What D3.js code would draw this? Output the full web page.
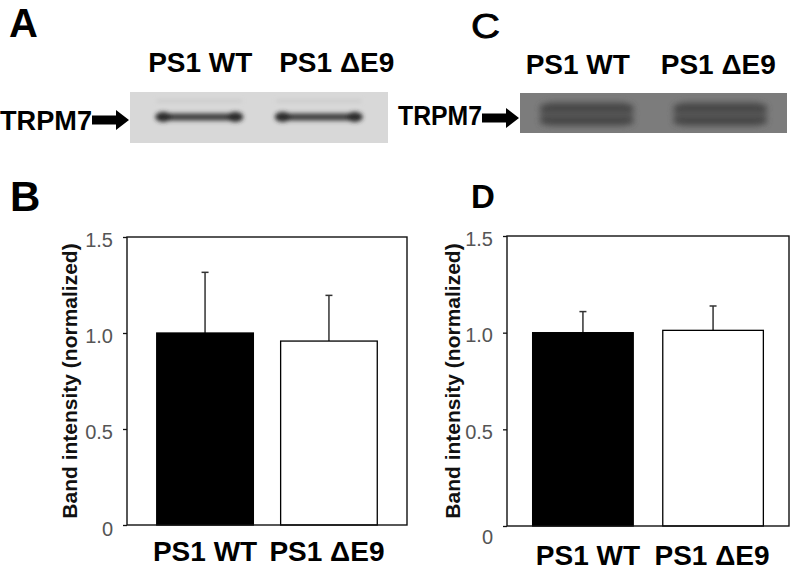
<!DOCTYPE html>
<html>
<head>
<meta charset="utf-8">
<script src="https://cdn.jsdelivr.net/npm/d3@7"></script>
<style>
  body { margin: 0; background: #fff; }
  svg { display: block; font-family: "Liberation Sans", Arial, sans-serif; }
</style>
</head>
<body>
<svg width="800" height="573"></svg>
<script>
const svg = d3.select('svg')

// lanes / groups
const categories = ['PS1 WT', 'PS1 \u0394E9']
// panel B: band intensity, mean and upper error
const meansB = [1.0, 0.958]
const errorsB = [0.316, 0.238]
// panel D
const meansD = [1.0, 1.012]
const errorsD = [0.109, 0.126]
const yTicks = [0, 0.5, 1.0, 1.5]

svg.append('rect').attr('width', 800).attr('height', 573).attr('fill', '#fff')

const defs = svg.append('defs')
defs.append('filter').attr('id', 'blurA').attr('x', '-20%').attr('y', '-100%').attr('width', '140%').attr('height', '300%')
  .append('feGaussianBlur').attr('stdDeviation', 1.9)
defs.append('filter').attr('id', 'blurC').attr('x', '-20%').attr('y', '-100%').attr('width', '140%').attr('height', '300%')
  .append('feGaussianBlur').attr('stdDeviation', 3.2)

// panel letters
const letters = [
  { t: 'A', x: 9, y: 37, size: 40, w: 'bold', len: null },
  { t: 'C', x: 471, y: 38, size: 35, w: 'normal', len: 29 },
  { t: 'B', x: 10, y: 211, size: 42, w: 'bold', len: null },
  { t: 'D', x: 471, y: 208, size: 33, w: 'bold', len: null }
]
letters.forEach(d => {
  const t = svg.append('text')
    .attr('x', d.x).attr('y', d.y)
    .attr('font-size', d.size).attr('font-weight', d.w)
    .attr('stroke', d.t === 'C' ? '#000' : 'none').attr('stroke-width', 0.8)
    .text(d.t)
  if (d.len) t.attr('textLength', d.len).attr('lengthAdjust', 'spacingAndGlyphs')
})

// western blot panels
function drawBlot(o) {
  const g = svg.append('g')
  const lane = d3.scaleBand().domain(categories)
    .range([o.x0, o.x1]).paddingInner(o.pi).paddingOuter(o.po)

  g.append('rect')
    .attr('x', o.x0).attr('y', o.y0)
    .attr('width', o.x1 - o.x0).attr('height', o.y1 - o.y0)
    .attr('fill', o.bg)

  const bands = g.append('g').attr('filter', o.filter)
  categories.forEach(c => {
    const bx = lane(c), bw = lane.bandwidth()
    o.stripes.forEach(s => {
      bands.append('line')
        .attr('x1', bx + s.h / 2).attr('x2', bx + bw - s.h / 2)
        .attr('y1', s.y).attr('y2', s.y)
        .attr('stroke', s.color).attr('stroke-width', s.h)
        .attr('stroke-linecap', 'round')
        .attr('opacity', s.op || 1)
    })
    if (o.ends) {
      [bx + 7, bx + bw - 7].forEach(ex => {
        bands.append('ellipse').attr('cx', ex).attr('cy', o.stripes[0].y)
          .attr('rx', 8).attr('ry', 5).attr('fill', '#2a2a2a')
      })
    }
  })

  g.selectAll('.lane-label').data(categories).enter().append('text')
    .attr('class', 'lane-label')
    .attr('x', (d, i) => lane(d) + lane.bandwidth() / 2 + o.labelShift[i])
    .attr('y', o.labelY)
    .attr('text-anchor', 'middle')
    .attr('font-size', 28).attr('font-weight', 'bold')
    .text(d => d)

  g.append('text')
    .attr('x', o.nameX).attr('y', o.nameY)
    .attr('font-size', 27).attr('font-weight', 'bold')
    .attr('textLength', o.nameW).attr('lengthAdjust', 'spacingAndGlyphs')
    .text('TRPM7')

  const ay = o.arrowY
  g.append('path')
    .attr('d', `M${o.arrowX0},${ay - 4.5}L${o.arrowXh},${ay - 4.5}L${o.arrowXh},${ay - 10}` +
      `L${o.arrowTip},${ay}L${o.arrowXh},${ay + 10}L${o.arrowXh},${ay + 4.5}L${o.arrowX0},${ay + 4.5}Z`)
    .attr('fill', '#000')
}

drawBlot({
  x0: 130, x1: 388, y0: 92, y1: 143, bg: '#d8d8d8',
  pi: 0.28, po: 0.22, filter: 'url(#blurA)',
  stripes: [
    { y: 117, h: 7, color: '#3c3c3c' },
    { y: 101, h: 2, color: '#bdbdbd', op: 0.7 }
  ], ends: true,
  labelY: 72, labelShift: [1, 18],
  nameX: 0, nameY: 130, nameW: 92,
  arrowX0: 92, arrowXh: 116, arrowTip: 129, arrowY: 120
})

drawBlot({
  x0: 520, x1: 787, y0: 93, y1: 133, bg: '#7c7c7c',
  pi: 0.3, po: 0.15, filter: 'url(#blurC)',
  stripes: [
    { y: 114, h: 24, color: '#585858' },
    { y: 108, h: 6, color: '#404040' },
    { y: 121, h: 6, color: '#404040' }
  ], ends: false,
  labelY: 74, labelShift: [-9, -2],
  nameX: 398, nameY: 125, nameW: 84,
  arrowX0: 482, arrowXh: 506, arrowTip: 519, arrowY: 118
})

// bar chart panels
function drawBars(o) {
  const g = svg.append('g')
  const x = d3.scaleBand().domain(categories)
    .range([o.left, o.right]).paddingInner(o.pi).paddingOuter(o.po)
  const y = d3.scaleLinear().domain([0, 1.5]).range([o.bottom, o.top])

  // error bars (upper only)
  g.selectAll('.err').data(categories).enter().append('line')
    .attr('x1', d => x(d) + x.bandwidth() / 2).attr('x2', d => x(d) + x.bandwidth() / 2)
    .attr('y1', (d, i) => y(o.means[i])).attr('y2', (d, i) => y(o.means[i] + o.errors[i]))
    .attr('stroke', '#333').attr('stroke-width', 1.5)
  g.selectAll('.cap').data(categories).enter().append('line')
    .attr('x1', d => x(d) + x.bandwidth() / 2 - 3.5).attr('x2', d => x(d) + x.bandwidth() / 2 + 3.5)
    .attr('y1', (d, i) => y(o.means[i] + o.errors[i])).attr('y2', (d, i) => y(o.means[i] + o.errors[i]))
    .attr('stroke', '#333').attr('stroke-width', 1.5)

  g.selectAll('.bar').data(categories).enter().append('rect')
    .attr('x', d => x(d)).attr('width', x.bandwidth())
    .attr('y', (d, i) => y(o.means[i])).attr('height', (d, i) => o.bottom - y(o.means[i]))
    .attr('fill', (d, i) => i === 0 ? '#000' : '#fff')
    .attr('stroke', '#000').attr('stroke-width', 1.3)

  // frame
  g.append('rect')
    .attr('x', o.left).attr('y', o.top)
    .attr('width', o.right - o.left).attr('height', o.bottom - o.top)
    .attr('fill', 'none').attr('stroke', '#111').attr('stroke-width', 1.4)

  const axis = g.append('g').attr('transform', `translate(${o.left},0)`)
    .call(d3.axisLeft(y).tickValues(yTicks).tickSize(4).tickPadding(10)
      .tickFormat(d => d === 0 ? '0' : d.toFixed(1)))
  axis.select('.domain').remove()
  axis.selectAll('line').attr('stroke', '#111').attr('stroke-width', 1.3)
  axis.selectAll('text')
    .attr('font-size', 20).attr('fill', '#555')
    .attr('font-family', '"Liberation Sans", Arial, sans-serif')
    .attr('dy', d => d === 0 ? o.zeroDy : '0.45em')

  g.selectAll('.cat').data(categories).enter().append('text')
    .attr('class', 'cat')
    .attr('x', (d, i) => x(d) + x.bandwidth() / 2 + o.catShift[i])
    .attr('y', o.catY)
    .attr('text-anchor', 'middle')
    .attr('font-size', 28).attr('font-weight', 'bold')
    .text(d => d)

  g.append('text')
    .attr('transform', `translate(${o.labelX},${(o.top + o.bottom) / 2}) rotate(-90)`)
    .attr('text-anchor', 'middle')
    .attr('font-size', 21).attr('font-weight', 'bold').attr('fill', '#111')
    .text('Band intensity (normalized)')
}

drawBars({
  left: 127, right: 407, top: 237, bottom: 525,
  pi: 0.22, po: 0.24, means: meansB, errors: errorsB,
  zeroDy: '0.5em', catY: 561, catShift: [0, -2], labelX: 77
})

drawBars({
  left: 507, right: 789, top: 236, bottom: 526,
  pi: 0.227, po: 0.197, means: meansD, errors: errorsD,
  zeroDy: '0.85em', catY: 565, catShift: [5, -1], labelX: 460
})
</script>
</body>
</html>
